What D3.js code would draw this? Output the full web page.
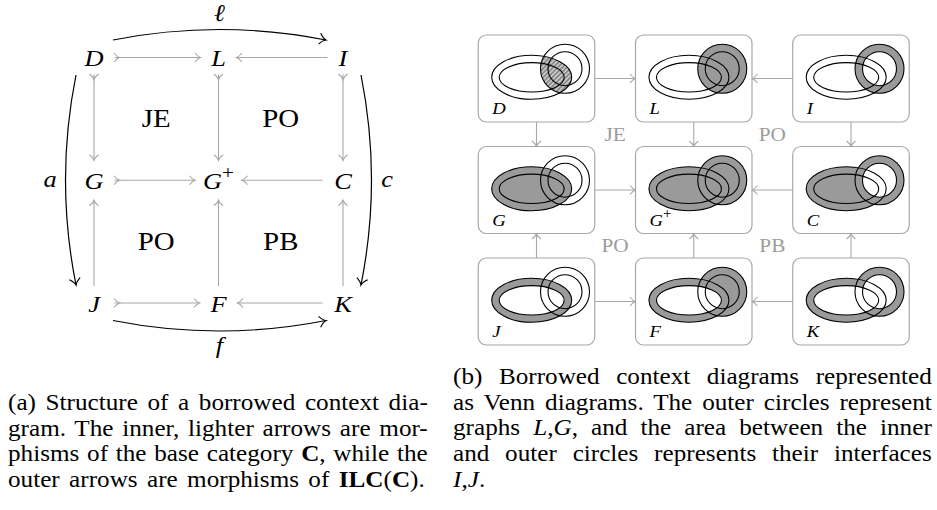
<!DOCTYPE html>
<html>
<head>
<meta charset="utf-8">
<script src="https://cdn.jsdelivr.net/npm/d3@7"></script>
<style>
  body { margin: 0; background: #fff; }
  svg { display: block; }
  text { white-space: pre; font-family: "Liberation Serif", "DejaVu Serif", serif; }
</style>
</head>
<body>
<svg id="fig" width="937" height="510"></svg>
<script>
// objects of the borrowed context square, by grid column / row
const nodes = [
  { id: "D", col: 0, row: 0 }, { id: "L", col: 1, row: 0 }, { id: "I", col: 2, row: 0 },
  { id: "G", col: 0, row: 1 }, { id: "G+", col: 1, row: 1 }, { id: "C", col: 2, row: 1 },
  { id: "J", col: 0, row: 2 }, { id: "F", col: 1, row: 2 }, { id: "K", col: 2, row: 2 }
];

// inner (lighter) morphisms: source, target, mono tail
const innerEdges = [
  ["D", "L", true], ["I", "L", false],
  ["G", "G+", true], ["C", "G+", false],
  ["J", "F", true], ["K", "F", false],
  ["D", "G", true], ["L", "G+", true], ["I", "C", true],
  ["J", "G", false], ["F", "G+", false], ["K", "C", false]
];

// outer morphisms of ILC(C)
const outerEdges = [
  { from: "D", to: "I", label: "\u2113" },
  { from: "J", to: "K", label: "f" },
  { from: "D", to: "J", label: "a" },
  { from: "I", to: "K", label: "c" }
];

// names of the four squares
const squareLabels = [
  { text: "JE", col: 0.5, row: 0.5 }, { text: "PO", col: 1.5, row: 0.5 },
  { text: "PO", col: 0.5, row: 1.5 }, { text: "PB", col: 1.5, row: 1.5 }
];

// Venn shading per object (E/Ei = outer/inner ellipse, C/Ci = outer/inner circle)
const vennShade = {
  "D":  { shade: ["E"], within: "C", hatch: true },
  "L":  { shade: ["C"], cut: [] },
  "I":  { shade: ["C"], cut: ["Ci"] },
  "G":  { shade: ["E"], cut: [] },
  "G+": { shade: ["E", "C"], cut: [] },
  "C":  { shade: ["E", "C"], cut: ["Ci"] },
  "J":  { shade: ["E"], cut: ["Ei"] },
  "F":  { shade: ["E", "C"], cut: ["Ei"] },
  "K":  { shade: ["E", "C"], cut: ["Ei", "Ci"] }
};

// caption lines: [text, style] parts (b = bold, i = italic)
const captionA = [
  [["(a) Structure of a borrowed context dia-", ""]],
  [["gram. The inner, lighter arrows are mor-", ""]],
  [["phisms of the base category ", ""], ["C", "b"], [", while the", ""]],
  [["outer arrows are morphisms of ", ""], ["ILC", "b"], ["(", ""], ["C", "b"], [").", ""]]
];
const captionB = [
  [["(b) Borrowed context diagrams represented", ""]],
  [["as Venn diagrams. The outer circles represent", ""]],
  [["graphs ", ""], ["L", "i"], [",", ""], ["G", "i"], [", and the area between the inner", ""]],
  [["and outer circles represents their interfaces", ""]],
  [["I", "i"], [",", ""], ["J", "i"], [".", ""]]
];

const svg = d3.select("#fig");
const grey = "#a8a8a8";
const shadeCol = "#9a9a9a";
const byId = new Map(nodes.map(n => [n.id, n]));
const defs = svg.append("defs");

// tikz "to" style arrow head, tip at (x, y)
function headPath(x, y, ang, len, half) {
  const c = Math.cos(ang), s = Math.sin(ang);
  const p = (u, v) => [x + u * c - v * s, y + u * s + v * c].map(d => d.toFixed(2)).join(",");
  return `M${p(-len, -half)}Q${p(-len * 0.45, -half * 0.15)} ${p(0, 0)}Q${p(-len * 0.45, half * 0.15)} ${p(-len, half)}`;
}

// put a text at (x, y), a bit wider than the font draws it (closer to CM)
function place(t, x, y, k) {
  return t.attr("x", 0).attr("y", 0).attr("transform", `translate(${x},${y}) scale(${k},1)`);
}

function mathLabel(g, id, x, y, size, k) {
  const t = g.append("text")
    .attr("font-size", size)
    .attr("font-style", "italic");
  t.append("tspan").text(id.replace("+", ""));
  if (id.endsWith("+")) {
    t.append("tspan").text("+").attr("font-style", "normal")
      .attr("font-size", size * 0.8).attr("dy", -size * 0.42);
  }
  return place(t, x, y, k);
}

// ---------------- (a) structure ----------------
const ax = d3.scaleLinear().domain([0, 2]).range([94, 343]);
const ay = d3.scaleLinear().domain([0, 2]).range([57.5, 303]);
const gA = svg.append("g");

nodes.forEach(n => {
  mathLabel(gA, n.id, ax(n.col), ay(n.row) + 8.5, 24, 1.1).attr("text-anchor", "middle");
});

const padX = { "G+": 23.5, "F": 19, "L": 18, "I": 15.5 };
innerEdges.forEach(([s, t, mono]) => {
  const a = byId.get(s), b = byId.get(t);
  const x1 = ax(a.col), y1 = ay(a.row), x2 = ax(b.col), y2 = ay(b.row);
  const horiz = a.row === b.row;
  const ang = Math.atan2(y2 - y1, x2 - x1);
  const ps = horiz ? (padX[s] || 20.5) : 17;
  const pe = horiz ? (padX[t] || 20.5) : 20;
  const dx = Math.cos(ang), dy = Math.sin(ang);
  const sx = x1 + dx * ps, sy = y1 + dy * ps;
  const ex = x2 - dx * pe, ey = y2 - dy * pe;
  gA.append("path").attr("d", `M${sx},${sy}L${ex},${ey}`)
    .attr("stroke", grey).attr("stroke-width", 1.1).attr("fill", "none");
  gA.append("path").attr("d", headPath(ex, ey, ang, 5.5, 4.5))
    .attr("stroke", grey).attr("stroke-width", 1.1).attr("fill", "none");
  if (mono) {
    gA.append("path").attr("d", headPath(sx + dx * 5, sy + dy * 5, ang, 5.5, 4.5))
      .attr("stroke", grey).attr("stroke-width", 1.1).attr("fill", "none");
  }
});

const cx0 = ax(1), cy0 = ay(1);
outerEdges.forEach(e => {
  const a = byId.get(e.from), b = byId.get(e.to);
  const x1 = ax(a.col), y1 = ay(a.row), x2 = ax(b.col), y2 = ay(b.row);
  const horiz = a.row === b.row;
  const ang = Math.atan2(y2 - y1, x2 - x1);
  const dx = Math.cos(ang), dy = Math.sin(ang);
  // outward normal, away from the centre of the square
  const nx = horiz ? 0 : Math.sign(x1 - cx0), ny = horiz ? Math.sign(y1 - cy0) : 0;
  const off = horiz ? 17.5 : 18;
  const ps = horiz ? 19 : 17.5, pe = horiz ? 17 : 18;
  const sx = x1 + dx * ps + nx * off, sy = y1 + dy * ps + ny * off;
  const ex = x2 - dx * pe + nx * off, ey = y2 - dy * pe + ny * off;
  const bulge = 10.5;
  const mx = (sx + ex) / 2, my = (sy + ey) / 2;
  const qx = mx + nx * bulge * 2, qy = my + ny * bulge * 2;
  gA.append("path").attr("d", `M${sx},${sy}Q${qx},${qy} ${ex},${ey}`)
    .attr("stroke", "#000").attr("stroke-width", 1.2).attr("fill", "none");
  gA.append("path").attr("d", headPath(ex, ey, Math.atan2(ey - qy, ex - qx), 6.5, 5.5))
    .attr("stroke", "#000").attr("stroke-width", 1.2).attr("fill", "none");
  const t = gA.append("text")
    .attr("text-anchor", "middle")
    .attr("font-size", 24).attr("font-style", "italic")
    .text(e.label);
  place(t, mx + nx * 26, my + ny * 26 + 6.5, 1.1);
});

squareLabels.forEach(l => {
  const t = gA.append("text")
    .attr("text-anchor", "middle")
    .attr("font-size", 24.5)
    .text(l.text);
  place(t, ax(l.col), ay(l.row) + 8.5, 1.18);
});

// ---------------- (b) Venn diagrams ----------------
const bx = d3.scaleLinear().domain([0, 2]).range([536.5, 851]);
const by = d3.scaleLinear().domain([0, 2]).range([78.5, 301.5]);
const boxW = 116.5, boxH = 87;
const shapes = {
  E:  { cx: -4.8, cy: -1.2, rx: 40, ry: 22 },
  Ei: { cx: -4.8, cy: -1.2, rx: 32.5, ry: 14.7 },
  C:  { cx: 28.5, cy: -9.8, rx: 24.5, ry: 24.5 },
  Ci: { cx: 28.5, cy: -9.8, rx: 17, ry: 17 }
};
const gB = svg.append("g");

const pat = defs.append("pattern").attr("id", "hatch")
  .attr("patternUnits", "userSpaceOnUse").attr("width", 3.2).attr("height", 3.2)
  .attr("patternTransform", "rotate(45)");
pat.append("rect").attr("width", 3.2).attr("height", 3.2).attr("fill", "#c8c8c8");
pat.append("line").attr("x1", 0.8).attr("y1", 0).attr("x2", 0.8).attr("y2", 3.2)
  .attr("stroke", "#777").attr("stroke-width", 1.3);

function addShape(sel, key) {
  const s = shapes[key];
  return sel.append("ellipse").attr("cx", s.cx).attr("cy", s.cy).attr("rx", s.rx).attr("ry", s.ry);
}

// arrows between boxes
innerEdges.forEach(([s, t]) => {
  const a = byId.get(s), b = byId.get(t);
  const x1 = bx(a.col), y1 = by(a.row), x2 = bx(b.col), y2 = by(b.row);
  const horiz = a.row === b.row;
  const ang = Math.atan2(y2 - y1, x2 - x1);
  const dx = Math.cos(ang), dy = Math.sin(ang);
  const half = horiz ? boxW / 2 : boxH / 2;
  const sx = x1 + dx * half, sy = y1 + dy * half;
  const ex = x2 - dx * half, ey = y2 - dy * half;
  gB.append("path").attr("d", `M${sx},${sy}L${ex},${ey}`)
    .attr("stroke", grey).attr("stroke-width", 1.1).attr("fill", "none");
  gB.append("path").attr("d", headPath(ex, ey, ang, 5.5, 4.5))
    .attr("stroke", grey).attr("stroke-width", 1.1).attr("fill", "none");
});

nodes.forEach((n, i) => {
  const spec = vennShade[n.id];
  const g = gB.append("g").attr("transform", `translate(${bx(n.col)},${by(n.row)})`);
  g.append("rect")
    .attr("x", -boxW / 2).attr("y", -boxH / 2).attr("width", boxW).attr("height", boxH)
    .attr("rx", 8).attr("fill", "#fff").attr("stroke", grey).attr("stroke-width", 1.2);

  const m = defs.append("mask").attr("id", "mask" + i)
    .attr("maskUnits", "userSpaceOnUse")
    .attr("x", -boxW / 2).attr("y", -boxH / 2).attr("width", boxW).attr("height", boxH);
  spec.shade.forEach(k => addShape(m, k).attr("fill", "#fff"));
  (spec.cut || []).forEach(k => addShape(m, k).attr("fill", "#000"));

  let holder = g;
  if (spec.within) {
    const cp = defs.append("clipPath").attr("id", "clip" + i);
    addShape(cp, spec.within);
    holder = g.append("g").attr("clip-path", `url(#clip${i})`);
  }
  holder.append("rect")
    .attr("x", -boxW / 2).attr("y", -boxH / 2).attr("width", boxW).attr("height", boxH)
    .attr("fill", spec.hatch ? "url(#hatch)" : shadeCol)
    .attr("mask", `url(#mask${i})`);

  ["E", "Ei", "C", "Ci"].forEach(k => {
    addShape(g, k).attr("fill", "none").attr("stroke", "#000").attr("stroke-width", 1.1);
  });

  mathLabel(g, n.id, -boxW / 2 + 14, boxH / 2 - 8, 17, 1.1);
});

squareLabels.forEach(l => {
  const t = gB.append("text")
    .attr("text-anchor", "middle")
    .attr("font-size", 18.5).attr("fill", "#9c9c9c")
    .text(l.text);
  place(t, bx(l.col), by(l.row) + 6.5, 1.15);
});

// ---------------- captions ----------------
// justified lines: widen the glyphs a little (CM is wider than Times), rest goes to word spacing
function caption(lines, x0, width, y0, lastWidth) {
  const lineH = 25.7;
  let sSum = 0, sN = 0;
  lines.forEach((parts, i) => {
    const y = y0 + i * lineH;
    const t = svg.append("text").attr("font-size", 22.5);
    parts.forEach(([str, st]) => {
      t.append("tspan").text(str)
        .attr("font-weight", st === "b" ? "bold" : null)
        .attr("font-style", st === "i" ? "italic" : null);
    });
    const txt = parts.map(p => p[0]).join("");
    const last = i === lines.length - 1;
    const target = last ? lastWidth : width;
    const nat = t.node().getComputedTextLength();
    let s;
    if (target) {
      s = Math.min(target / nat, 1.12);
      const nSp = (txt.match(/ /g) || []).length;
      const extra = target / s - nat;
      if (nSp) t.attr("word-spacing", extra / nSp);
      sSum += s; sN++;
    } else {
      s = sN ? sSum / sN : 1;
    }
    place(t, x0, y, s);
  });
}

caption(captionA, 8, 420, 410, 417);
caption(captionB, 453, 479, 384, null);
</script>
</body>
</html>
